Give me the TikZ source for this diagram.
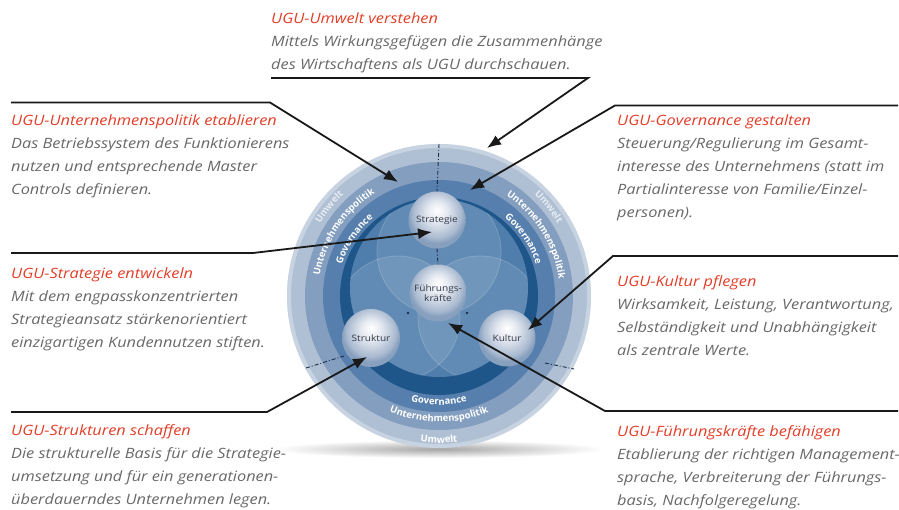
\documentclass[tikz,border=0pt]{standalone}
\usepackage{fontspec}
\setmainfont{Open Sans}
\setsansfont{Open Sans}
\newfontfamily\bodyfont{Open Sans}[FakeStretch=1.15]
\usetikzlibrary{arrows.meta,decorations.text}
\definecolor{hred}{RGB}{226,62,40}
\definecolor{tgray}{RGB}{105,105,105}
\definecolor{ringUm}{RGB}{176,192,212}
\definecolor{ringUn}{RGB}{132,158,191}
\definecolor{ringGo}{RGB}{86,127,173}
\definecolor{ringDk}{RGB}{30,86,138}
\definecolor{innerC}{RGB}{80,126,172}
\definecolor{sphA}{RGB}{228,232,240}
\definecolor{sphB}{RGB}{170,186,208}
\definecolor{sphC}{RGB}{135,160,190}
\definecolor{sphT}{RGB}{52,58,72}
\definecolor{lineC}{RGB}{25,25,25}
\definecolor{dashC}{RGB}{25,45,75}
\pgfdeclareradialshading{sph}{\pgfpoint{0bp}{9bp}}{color(0bp)=(white); color(9bp)=(sphA); color(21bp)=(sphB); color(25bp)=(sphC); color(50bp)=(sphC)}
\newcommand{\ringfnt}{\fontsize{9.5}{9.5}\selectfont\sffamily\bfseries}
\tikzset{
  txt/.style={anchor=north west, inner sep=0pt, align=left, text=tgray,
    font=\bodyfont\itshape\fontsize{14.2}{23}\selectfont},
  lead/.style={draw=lineC, line width=1.8pt, line join=miter,
    -{Latex[length=14pt,width=11pt]}},
  sphere/.style={circle, minimum size=57pt, inner sep=0pt, shading=sph,
    text=sphT, align=center, font=\bodyfont\fontsize{8.8}{9.5}\selectfont},
  dotline/.style={draw=dashC, line width=0.9pt, dash pattern=on 4pt off 2pt on 1pt off 2pt},
  ringtext/.style={decorate, decoration={text along path, text align=center, text color=white}}
}
\begin{document}
\begin{tikzpicture}[x=1pt,y=1pt]
\useasboundingbox (0,0) rectangle (899,509);
\fill[white] (0,0) rectangle (899,509);
% shadow
\shade[inner color=black!35, outer color=white] (439,509-449) ellipse (165 and 9);
% rings
\coordinate (C) at (439,509-296);
\fill[ringUm] (C) circle (152);
\draw[white, opacity=0.3, line width=4pt] (C) circle (150);
\fill[ringUn] (C) circle (134);
\fill[ringGo] (C) circle (116);
\fill[ringDk] (C) circle (99);
\fill[innerC] (439,509-288) circle (89);
% petals
\begin{scope}
\clip (439,509-288) circle (89);
\fill[white, opacity=0.10] (439,509-252) circle (62);
\fill[white, opacity=0.10] (398,509-318) circle (62);
\fill[white, opacity=0.10] (480,509-318) circle (62);
\draw[white, opacity=0.18, line width=0.8pt] (439,509-252) circle (62);
\draw[white, opacity=0.18, line width=0.8pt] (398,509-318) circle (62);
\draw[white, opacity=0.18, line width=0.8pt] (480,509-318) circle (62);
\end{scope}
% ring texts
\path[ringtext, decoration={text={|\ringfnt|Unternehmenspolitik}}]
  ([shift={(176:121)}]C) arc[start angle=176, end angle=116, radius=121];
\path[ringtext, decoration={text={|\ringfnt|Governance}}]
  ([shift={(168:102)}]C) arc[start angle=168, end angle=124, radius=102];
\path[ringtext, decoration={text={|\ringfnt\color{white!70!ringUm}|Umwelt}}]
  ([shift={(155:139)}]C) arc[start angle=155, end angle=127, radius=139];
\path[ringtext, decoration={text={|\ringfnt|Unternehmenspolitik}}]
  ([shift={(62:121)}]C) arc[start angle=62, end angle=2, radius=121];
\path[ringtext, decoration={text={|\ringfnt|Governance}}]
  ([shift={(56:102)}]C) arc[start angle=56, end angle=12, radius=102];
\path[ringtext, decoration={text={|\ringfnt\color{white!70!ringUm}|Umwelt}}]
  ([shift={(53:139)}]C) arc[start angle=53, end angle=25, radius=139];
\path[ringtext, decoration={text={|\ringfnt|Governance}}]
  ([shift={(235:109)}]C) arc[start angle=235, end angle=305, radius=109];
\path[ringtext, decoration={text={|\ringfnt|Unternehmenspolitik}}]
  ([shift={(230:126)}]C) arc[start angle=230, end angle=310, radius=126];
\path[ringtext, decoration={text={|\ringfnt|Umwelt}}]
  ([shift={(250:147)}]C) arc[start angle=250, end angle=290, radius=147];
% spheres
\node[sphere] (str) at (437,509-220) {Strategie};
\node[sphere] (fuk) at (438,509-293) {Führungs-\\kräfte};
\node[sphere, minimum size=58pt] (stu) at (371,509-338) {Struktur};
\node[sphere] (kul) at (507,509-338) {Kultur};
% dashed connectors
\coordinate (topD) at (439,509-144);
\draw[dotline] (topD) -- (str.north);
\draw[dotline] (str.south) -- (fuk.north);
\coordinate (llA) at (306,509-368);
\coordinate (llB) at (344,509-356);
\draw[dotline] (llA) -- (llB);
\coordinate (lrA) at (545,509-363);
\coordinate (lrB) at (574,509-369);
\draw[dotline] (lrA) -- (lrB);
\fill[dashC] (408,509-313) circle (1.3);
\fill[dashC] (467,509-313) circle (1.3);
% texts
\node[txt] (tUm) at (271,509-12.5) {{\color{hred}UGU-Umwelt verstehen}\\Mittels Wirkungsgefügen die Zusammenhänge\\des Wirtschaftens als UGU durchschauen.};
\node[txt] (tUn) at (11,509-115) {{\color{hred}UGU-Unternehmenspolitik etablieren}\\Das Betriebssystem des Funktionierens\\nutzen und entsprechende Master\\Controls definieren.};
\node[txt] (tGo) at (617,509-115) {{\color{hred}UGU-Governance gestalten}\\Steuerung/Regulierung im Gesamt-\\interesse des Unternehmens (statt im\\Partialinteresse von Familie/Einzel-\\personen).};
\node[txt] (tSt) at (11,509-268) {{\color{hred}UGU-Strategie entwickeln}\\Mit dem engpasskonzentrierten\\Strategieansatz stärkenorientiert\\einzigartigen Kundennutzen stiften.};
\node[txt] (tKu) at (617,509-275) {{\color{hred}UGU-Kultur pflegen}\\Wirksamkeit, Leistung, Verantwortung,\\Selbständigkeit und Unabhängigkeit\\als zentrale Werte.};
\node[txt] (tSu) at (11,509-424) {{\color{hred}UGU-Strukturen schaffen}\\Die strukturelle Basis für die Strategie-\\umsetzung und für ein generationen-\\überdauerndes Unternehmen legen.};
\node[txt] (tFu) at (617,509-425) {{\color{hred}UGU-Führungskräfte befähigen}\\Etablierung der richtigen Management-\\sprache, Verbreiterung der Führungs-\\basis, Nachfolgeregelung.};
% leader lines
\coordinate (umA) at (271,509-78);
\coordinate (umB) at (588,509-78);
\coordinate (umT) at (487,509-148);
\draw[lead] (umA) -- (umB) -- (umT);
\coordinate (unA) at (11,509-102.5);
\coordinate (unB) at (270,509-102.5);
\coordinate (unT) at (398,509-182);
\draw[lead] (unA) -- (unB) -- (unT);
\coordinate (goA) at (898,509-105.5);
\coordinate (goB) at (615,509-105.5);
\coordinate (goT) at (470,509-190);
\draw[lead] (goA) -- (goB) -- (goT);
\coordinate (stA) at (11,509-253);
\coordinate (stB) at (253,509-253);
\coordinate (stT) at (432,509-232);
\draw[lead] (stA) -- (stB) -- (stT);
\coordinate (kuA) at (898,509-256);
\coordinate (kuB) at (613,509-256);
\coordinate (kuT) at (528,509-330);
\draw[lead] (kuA) -- (kuB) -- (kuT);
\coordinate (suA) at (11,509-412);
\coordinate (suB) at (267,509-412);
\coordinate (suT) at (367,509-357);
\draw[lead] (suA) -- (suB) -- (suT);
\coordinate (fuA) at (898,509-411);
\coordinate (fuB) at (605,509-411);
\coordinate (fuT) at (448,509-323);
\draw[lead] (fuA) -- (fuB) -- (fuT);
\end{tikzpicture}
\end{document}
